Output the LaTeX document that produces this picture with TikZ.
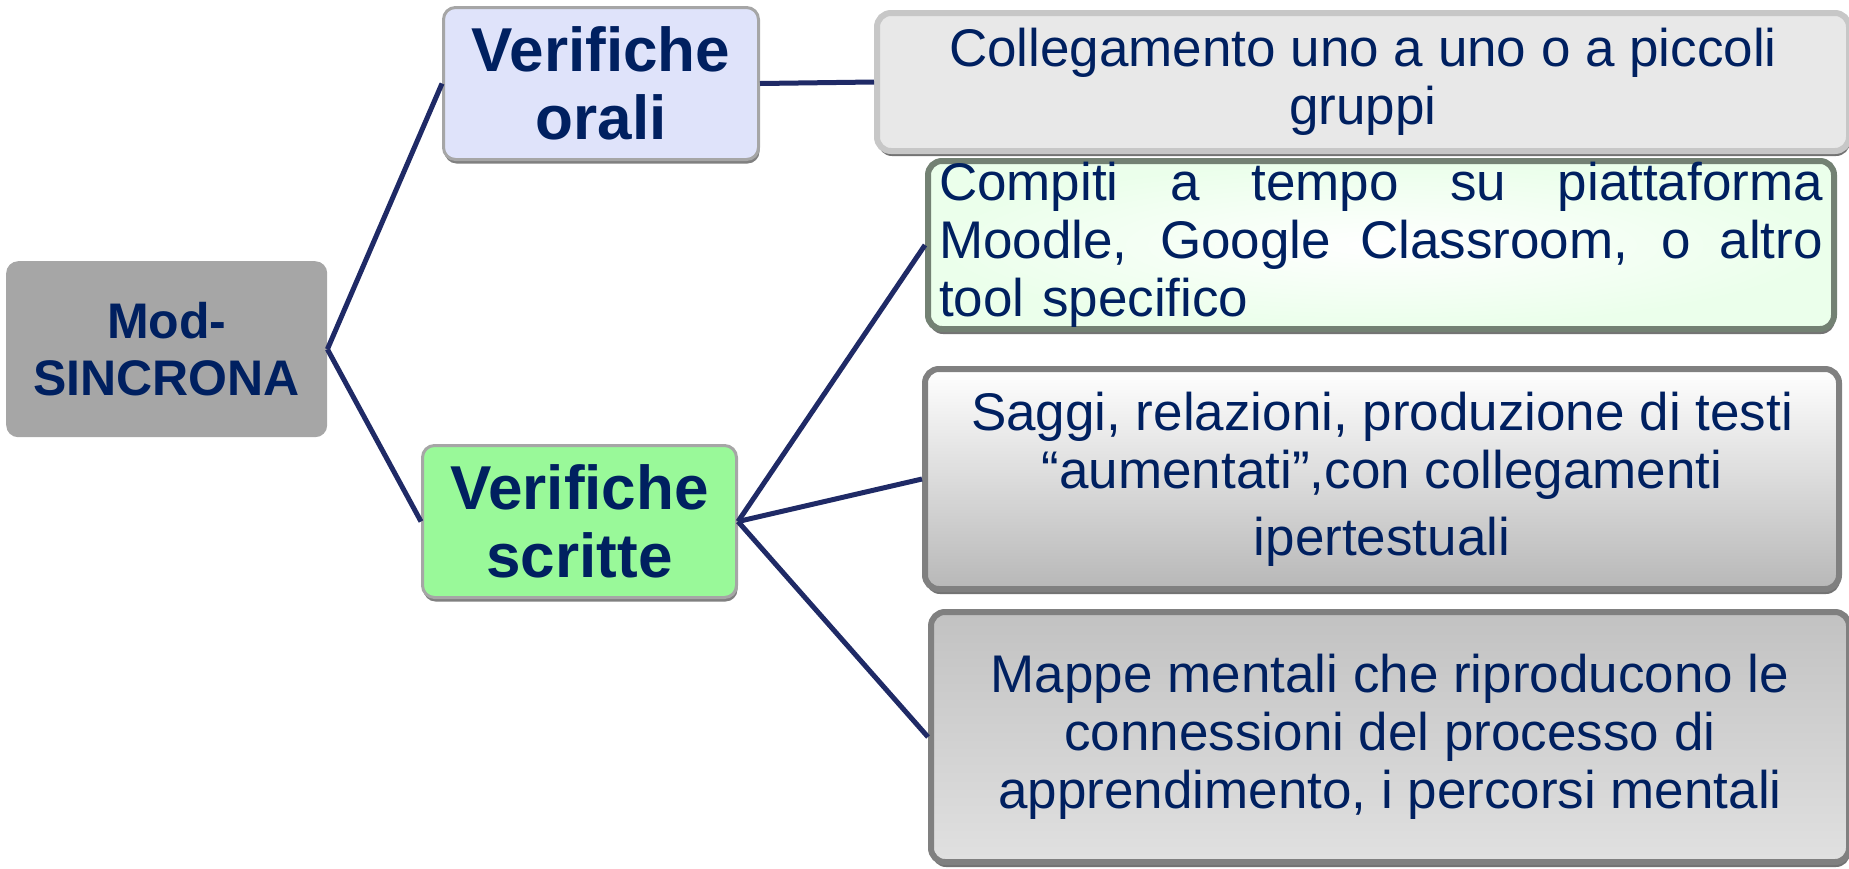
\documentclass[tikz,border=0pt]{standalone}
\usepackage{fontspec}
\setmainfont{Liberation Sans}
\usepackage{tikz}
\usetikzlibrary{shadows, positioning}

\definecolor{navytext}{HTML}{002060}
\definecolor{navyline}{HTML}{1F2A66}
\definecolor{lavender}{HTML}{DFE3FA}
\definecolor{mintgreen}{HTML}{99F999}

% one justified line, spread over the box
\newcommand{\spreadline}[1]{\makebox[884pt][s]{\spaceskip=0pt\xspaceskip=0pt #1}}

\begin{document}
\begin{tikzpicture}[
      x=1pt, y=-1pt,
      every node/.style={text=navytext, inner sep=0pt, anchor=north west},
      link/.style={draw=navyline, line width=5pt},
      rootbox/.style={rectangle, rounded corners=12pt, fill=black!35, align=center,
        font=\bfseries\fontsize{50}{57}\selectfont},
      topicbox/.style={rectangle, rounded corners=12pt, draw=black!35, line width=3pt, align=center,
        drop shadow={shadow xshift=1pt, shadow yshift=-4pt, fill=black!50, opacity=1},
        font=\bfseries\fontsize{62}{68}\selectfont},
      itembox/.style={rectangle, rounded corners=14pt, line width=6pt, align=center,
        drop shadow={shadow xshift=1pt, shadow yshift=-5pt, fill=black!55, opacity=1},
        font=\fontsize{53}{58}\selectfont}
    ]
    \useasboundingbox (0,0) rectangle (1849,868);

    % left side: root and the two kinds of test
    \node[rootbox, minimum width=321pt, minimum height=176pt] (sincrona) at (6,261) {Mod-\\SINCRONA};
    \node[topicbox, fill=lavender, minimum width=315pt, minimum height=152pt] (orali) at (442,6) {Verifiche\\orali};
    \node[topicbox, fill=mintgreen, minimum width=314pt, minimum height=152pt] (scritte) at (421,444) {Verifiche\\scritte};

    % right side: the details
    \node[itembox, draw=black!22, fill=black!9, minimum width=972pt, minimum height=138pt] (uno) at (874,10)
      {Collegamento uno a uno o a piccoli\\gruppi};
    \node[itembox, draw=black!45!green!10!gray, shade, outer color=green!8!white, inner color=white,
      minimum width=906pt, minimum height=168pt, text width=884pt, align=left] (compiti) at (925,158)
      {\spreadline{Compiti a tempo su piattaforma}\\
       \spreadline{Moodle, Google Classroom, o altro}\\
       tool specifico};
    \node[itembox, draw=black!50, shade, top color=white, bottom color=black!28,
      minimum width=914pt, minimum height=220pt] (saggi) at (922,366)
      {Saggi, relazioni, produzione di testi\\\textquotedblleft aumentati\textquotedblright,con collegamenti\\[9pt]ipertestuali};
    \node[itembox, draw=black!50, shade, top color=black!24, bottom color=black!12,
      minimum width=918pt, minimum height=250pt] (mappe) at (928,609)
      {Mappe mentali che riproducono le\\connessioni del processo di\\apprendimento, i percorsi mentali};

    \draw[link] (sincrona.east) -- (orali.west);
    \draw[link] (sincrona.east) -- (scritte.west);
    \draw[link] (orali.east) -- (uno.west);
    \draw[link] (scritte.east) -- (compiti.west);
    \draw[link] (scritte.east) -- (saggi.west);
    \draw[link] (scritte.east) -- (mappe.west);
\end{tikzpicture}
\end{document}
